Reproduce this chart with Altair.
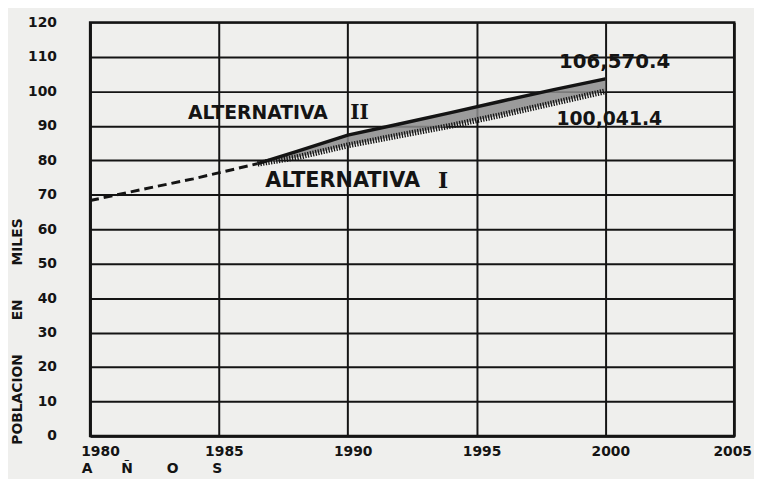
import altair as alt
import pandas as pd

# ---- data ----
dash_years = [1980, 1982, 1984, 1986.5]
dash_values = [68.3, 71.5, 74.6, 79.0]

alt_years = [1986.5, 1988, 1990, 1992, 1994, 1996, 1998, 2000]
alt2_values = [79.0, 82.5, 87.3, 90.5, 93.8, 97.2, 100.5, 103.6]   # ALTERNATIVA II
alt1_values = [79.0, 80.8, 84.3, 87.2, 90.0, 93.2, 96.6, 100.0]    # ALTERNATIVA I

x_ticks = [1980, 1985, 1990, 1995, 2000, 2005]
y_ticks = [0, 10, 20, 30, 40, 50, 60, 70, 80, 90, 100, 110, 120]

# annotation words (sans) and roman numerals (serif)
label_texts = ["ALTERNATIVA", "ALTERNATIVA", "106,570.4", "100,041.4"]
label_x = [1983.8, 1986.8, 1998.2, 1998.1]
label_y = [93.6, 74.0, 108.4, 91.8]
label_sizes = [19, 21, 20, 19]

numeral_texts = ["II", "I"]
numeral_x = [1990.1, 1993.5]
numeral_y = [93.6, 74.0]
numeral_sizes = [20, 22]

INK = "#141414"
FONT = "DejaVu Sans"
nb = "\u00a0"

dash_df = pd.DataFrame({"year": dash_years, "value": dash_values})
alt_df = pd.DataFrame({"year": alt_years, "alt2": alt2_values, "alt1": alt1_values})
lab_df = pd.DataFrame({"text": label_texts, "year": label_x, "value": label_y, "size": label_sizes})
num_df = pd.DataFrame({"text": numeral_texts, "year": numeral_x, "value": numeral_y,
                       "size": numeral_sizes})

xscale = alt.Scale(domain=[1980, 2005], nice=False, zero=False)
yscale = alt.Scale(domain=[0, 120], nice=False)

xaxis = alt.Axis(
    values=x_ticks, format="d", grid=True, gridColor=INK, gridWidth=2, gridOpacity=1,
    domainColor=INK, domainWidth=2.5, ticks=False, labelPadding=9, labelOverlap=False,
    labelFlush=False,
    labelOffset={"condition": [{"test": "datum.value == 1980", "value": 10},
                               {"test": "datum.value == 2005", "value": -2}],
                 "value": 5},
    labelFont=FONT, labelFontSize=14, labelFontWeight="bold", labelColor=INK,
    title=f"A{nb*6}Ñ{nb*7}O{nb*7}S", titleFont=FONT, titleFontSize=14, titleFontWeight="bold",
    titleColor=INK, titleAnchor="start", titleAlign="left", titleBaseline="top",
    titleX=-9, titleY=26,
)
yaxis = alt.Axis(
    values=y_ticks, grid=True, gridColor=INK, gridWidth=2, gridOpacity=1,
    domainColor=INK, domainWidth=2.5, ticks=False, labelPadding=34, labelOverlap=False,
    labelFont=FONT, labelFontSize=14, labelFontWeight="bold", labelColor=INK,
    title=f"POBLACION{nb*7}EN{nb*7}MILES", titleFont=FONT, titleFontSize=14,
    titleFontWeight="bold", titleColor=INK, titleAngle=270, titleAlign="center",
    titleBaseline="middle", titleX=-73, titleY=312,
)


def X(field):
    return alt.X(f"{field}:Q", scale=xscale, axis=xaxis)


def Y(field):
    return alt.Y(f"{field}:Q", scale=yscale, axis=yaxis)


dash_line = alt.Chart(dash_df).mark_line(
    color=INK, strokeWidth=3, strokeDash=[9, 5]
).encode(x=X("year"), y=Y("value"))

band = alt.Chart(alt_df).mark_area(color="#8c8c8c", opacity=0.85).encode(
    x=X("year"), y=Y("alt1"), y2="alt2:Q"
)
hatch = alt.Chart(alt_df).mark_line(color=INK, strokeWidth=6, strokeDash=[1.3, 1.4]).encode(
    x=X("year"), y=Y("alt1")
)
line2 = alt.Chart(alt_df).mark_line(color=INK, strokeWidth=3.5).encode(
    x=X("year"), y=Y("alt2")
)

labels = alt.Chart(lab_df).mark_text(
    font=FONT, fontWeight="bold", color=INK, align="left", baseline="middle"
).encode(
    x=X("year"), y=Y("value"),
    text="text:N", size=alt.Size("size:Q", scale=None, legend=None)
)

numerals = alt.Chart(num_df).mark_text(
    font="DejaVu Serif", fontWeight="bold", color=INK, align="left", baseline="middle"
).encode(
    x=X("year"), y=Y("value"),
    text="text:N", size=alt.Size("size:Q", scale=None, legend=None)
)

chart = alt.layer(dash_line, band, hatch, line2, labels, numerals).properties(
    width=651, height=418,
    autosize=alt.AutoSizeParams(type="none"),
    padding={"left": 83, "top": 12, "right": 20, "bottom": 41},
    background="#efefed",
).configure_view(stroke=INK, strokeWidth=2.5)

chart.save("out.html", embed_options={"renderer": "svg", "actions": False})
